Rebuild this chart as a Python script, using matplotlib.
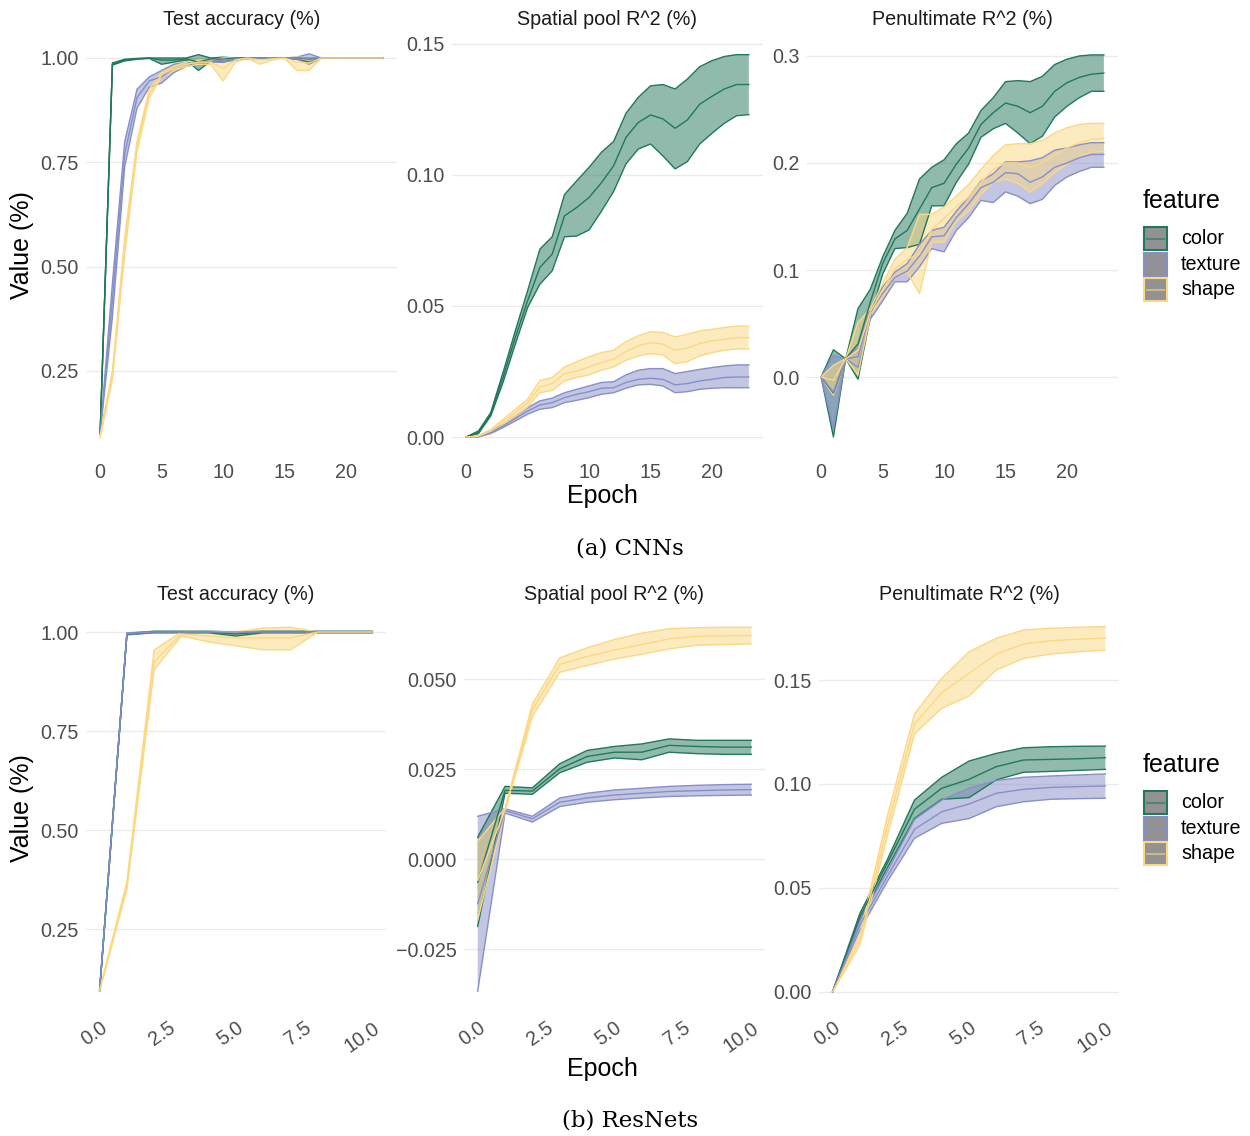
import matplotlib
matplotlib.use('Agg')
import matplotlib.pyplot as plt
from matplotlib.patches import Rectangle
from matplotlib.colors import to_rgba

plt.rcParams['font.family'] = ['Liberation Sans', 'DejaVu Sans']

features = ['color', 'texture', 'shape']
feature_colors = ['#22785A', '#878FC9', '#FCD883']

# ---- CNNs: epochs 0..23 ----
cnn_epochs = list(range(24))

cnn_acc_color_lo = [0.10, 0.983, 0.993, 0.997, 0.999, 0.985, 0.99, 0.995, 0.97, 0.993, 0.99, 0.999, 1.0, 1.0, 1.0, 1.0, 0.997, 0.99, 1.0, 1.0, 1.0, 1.0, 1.0, 1.0]
cnn_acc_color_mid = [0.10, 0.985, 0.995, 0.998, 1.0, 0.995, 0.995, 0.998, 0.99, 0.998, 0.997, 1.0, 1.0, 1.0, 1.0, 1.0, 1.0, 0.998, 1.0, 1.0, 1.0, 1.0, 1.0, 1.0]
cnn_acc_color_hi = [0.10, 0.988, 0.997, 0.999, 1.0, 1.0, 1.0, 1.0, 1.008, 1.0, 1.002, 1.0, 1.0, 1.0, 1.0, 1.0, 1.0, 1.0, 1.0, 1.0, 1.0, 1.0, 1.0, 1.0]
cnn_acc_texture_lo = [0.10, 0.38, 0.74, 0.88, 0.93, 0.94, 0.965, 0.98, 0.985, 0.99, 0.99, 0.995, 0.998, 0.999, 1.0, 1.0, 0.998, 0.985, 1.0, 1.0, 1.0, 1.0, 1.0, 1.0]
cnn_acc_texture_mid = [0.10, 0.42, 0.77, 0.905, 0.945, 0.955, 0.975, 0.985, 0.99, 0.992, 0.995, 0.997, 0.999, 1.0, 1.0, 1.0, 1.0, 1.0, 1.0, 1.0, 1.0, 1.0, 1.0, 1.0]
cnn_acc_texture_hi = [0.10, 0.46, 0.80, 0.925, 0.955, 0.97, 0.985, 0.99, 0.995, 0.995, 0.999, 1.0, 1.0, 1.0, 1.0, 1.0, 1.002, 1.01, 1.0, 1.0, 1.0, 1.0, 1.0, 1.0]
cnn_acc_shape_lo = [0.09, 0.23, 0.53, 0.775, 0.905, 0.955, 0.97, 0.98, 0.985, 0.985, 0.945, 0.99, 0.999, 0.985, 0.995, 1.0, 0.97, 0.97, 1.0, 1.0, 1.0, 1.0, 1.0, 1.0]
cnn_acc_shape_mid = [0.095, 0.24, 0.55, 0.79, 0.915, 0.96, 0.975, 0.985, 0.99, 0.99, 0.975, 0.995, 1.0, 0.995, 0.998, 1.0, 0.99, 0.988, 1.0, 1.0, 1.0, 1.0, 1.0, 1.0]
cnn_acc_shape_hi = [0.10, 0.25, 0.57, 0.80, 0.925, 0.965, 0.98, 0.99, 0.995, 0.995, 1.0, 1.0, 1.0, 1.0, 1.0, 1.0, 1.002, 1.0, 1.0, 1.0, 1.0, 1.0, 1.0, 1.0]

cnn_pool_color_lo = [0, 0.0013, 0.008, 0.0208, 0.0354, 0.0494, 0.0583, 0.0634, 0.0764, 0.0767, 0.079, 0.0861, 0.0937, 0.1042, 0.1099, 0.1118, 0.1073, 0.1023, 0.1051, 0.1118, 0.1159, 0.1197, 0.1226, 0.123]
cnn_pool_color_mid = [0, 0.0017, 0.0087, 0.0227, 0.038, 0.052, 0.0647, 0.0698, 0.0844, 0.0876, 0.0914, 0.097, 0.1035, 0.1143, 0.120, 0.1229, 0.1214, 0.1178, 0.121, 0.127, 0.130, 0.1328, 0.1345, 0.1345]
cnn_pool_color_hi = [0, 0.0023, 0.0093, 0.0246, 0.0405, 0.0558, 0.0717, 0.0764, 0.0925, 0.0978, 0.1029, 0.1086, 0.1128, 0.1235, 0.1296, 0.134, 0.1345, 0.1328, 0.1366, 0.1413, 0.1436, 0.1452, 0.1459, 0.1459]
cnn_pool_texture_lo = [0, 0.0, 0.0013, 0.0036, 0.0061, 0.0087, 0.0106, 0.0112, 0.0131, 0.014, 0.015, 0.0163, 0.0169, 0.0186, 0.0199, 0.0201, 0.0195, 0.0169, 0.0173, 0.0182, 0.0186, 0.0188, 0.0188, 0.0188]
cnn_pool_texture_mid = [0, 0.0001, 0.0017, 0.0042, 0.0071, 0.0099, 0.0122, 0.0131, 0.015, 0.0163, 0.0173, 0.0186, 0.0188, 0.0208, 0.022, 0.0224, 0.022, 0.0199, 0.0204, 0.0214, 0.022, 0.0227, 0.0229, 0.0229]
cnn_pool_texture_hi = [0, 0.0002, 0.0023, 0.0048, 0.008, 0.0112, 0.0138, 0.0148, 0.0169, 0.0182, 0.0195, 0.0208, 0.0211, 0.0237, 0.0255, 0.0261, 0.0261, 0.0242, 0.025, 0.0258, 0.0265, 0.0271, 0.0275, 0.0275]
cnn_pool_shape_lo = [0, 0.0001, 0.0017, 0.0048, 0.008, 0.0115, 0.0169, 0.0178, 0.0214, 0.0227, 0.0237, 0.0255, 0.0267, 0.0293, 0.0309, 0.0318, 0.0313, 0.028, 0.0288, 0.0309, 0.0322, 0.0331, 0.0336, 0.0336]
cnn_pool_shape_mid = [0, 0.0003, 0.0023, 0.0059, 0.0093, 0.0131, 0.0191, 0.0204, 0.0242, 0.0252, 0.0267, 0.0284, 0.0297, 0.0326, 0.0348, 0.036, 0.0354, 0.0331, 0.0339, 0.0357, 0.0367, 0.0373, 0.0379, 0.0379]
cnn_pool_shape_hi = [0, 0.0005, 0.0029, 0.0067, 0.0106, 0.0144, 0.0216, 0.0227, 0.0267, 0.0288, 0.0306, 0.0322, 0.0331, 0.0364, 0.0386, 0.0402, 0.0399, 0.0382, 0.0392, 0.0405, 0.0411, 0.0418, 0.0423, 0.0423]

cnn_pen_color_lo = [0, -0.056, 0.017, -0.002, 0.056, 0.096, 0.120, 0.121, 0.124, 0.160, 0.160, 0.182, 0.199, 0.224, 0.232, 0.237, 0.228, 0.218, 0.225, 0.243, 0.253, 0.261, 0.267, 0.267]
cnn_pen_color_mid = [0, -0.015, 0.017, 0.031, 0.070, 0.106, 0.129, 0.137, 0.157, 0.177, 0.181, 0.199, 0.214, 0.236, 0.247, 0.256, 0.253, 0.247, 0.253, 0.267, 0.275, 0.280, 0.283, 0.284]
cnn_pen_color_hi = [0, 0.0255, 0.017, 0.064, 0.082, 0.112, 0.137, 0.153, 0.185, 0.196, 0.203, 0.218, 0.228, 0.249, 0.261, 0.276, 0.277, 0.276, 0.281, 0.292, 0.297, 0.300, 0.301, 0.301]
cnn_pen_texture_lo = [0, -0.048, 0.017, 0.009, 0.054, 0.071, 0.089, 0.089, 0.103, 0.120, 0.117, 0.137, 0.149, 0.165, 0.163, 0.173, 0.169, 0.162, 0.166, 0.179, 0.187, 0.192, 0.196, 0.196]
cnn_pen_texture_mid = [0, -0.014, 0.017, 0.019, 0.061, 0.078, 0.093, 0.099, 0.113, 0.131, 0.132, 0.149, 0.162, 0.177, 0.182, 0.191, 0.190, 0.182, 0.187, 0.196, 0.200, 0.205, 0.208, 0.208]
cnn_pen_texture_hi = [0, 0.020, 0.017, 0.028, 0.065, 0.084, 0.098, 0.106, 0.124, 0.137, 0.140, 0.155, 0.168, 0.183, 0.190, 0.201, 0.201, 0.202, 0.205, 0.212, 0.214, 0.217, 0.219, 0.219]
cnn_pen_shape_lo = [0, -0.017, 0.017, 0.002, 0.058, 0.075, 0.093, 0.098, 0.078, 0.126, 0.126, 0.146, 0.155, 0.171, 0.182, 0.185, 0.181, 0.173, 0.181, 0.191, 0.199, 0.206, 0.210, 0.211]
cnn_pen_shape_mid = [0, -0.003, 0.017, 0.025, 0.061, 0.081, 0.101, 0.110, 0.115, 0.138, 0.148, 0.159, 0.168, 0.182, 0.194, 0.200, 0.200, 0.196, 0.200, 0.208, 0.214, 0.219, 0.222, 0.223]
cnn_pen_shape_hi = [0, 0.011, 0.017, 0.051, 0.064, 0.087, 0.110, 0.121, 0.152, 0.152, 0.159, 0.169, 0.180, 0.194, 0.207, 0.217, 0.218, 0.218, 0.221, 0.228, 0.233, 0.236, 0.237, 0.237]

# ---- ResNets: epochs 0..10 ----
res_epochs = list(range(11))

res_acc_color_lo = [0.093, 0.993, 0.998, 0.998, 0.998, 0.99, 0.998, 0.998, 0.998, 0.998, 0.998]
res_acc_color_mid = [0.095, 0.995, 1.0, 1.0, 1.0, 0.995, 1.0, 1.0, 1.0, 1.0, 1.0]
res_acc_color_hi = [0.097, 0.997, 1.002, 1.002, 1.002, 1.0, 1.002, 1.002, 1.002, 1.002, 1.002]
res_acc_texture_lo = [0.093, 0.994, 0.999, 0.999, 0.999, 0.999, 0.999, 0.999, 0.999, 0.999, 0.999]
res_acc_texture_mid = [0.095, 0.996, 1.0, 1.0, 1.0, 1.0, 1.0, 1.0, 1.0, 1.0, 1.0]
res_acc_texture_hi = [0.097, 0.998, 1.001, 1.001, 1.001, 1.001, 1.001, 1.001, 1.001, 1.001, 1.001]
res_acc_shape_lo = [0.093, 0.35, 0.905, 0.99, 0.975, 0.965, 0.955, 0.955, 1.0, 1.0, 1.0]
res_acc_shape_mid = [0.095, 0.36, 0.925, 0.995, 0.99, 0.985, 0.985, 0.985, 1.0, 1.0, 1.0]
res_acc_shape_hi = [0.097, 0.37, 0.955, 1.0, 1.0, 1.0, 1.01, 1.012, 1.0, 1.0, 1.0]

res_pool_color_lo = [-0.0187, 0.0183, 0.018, 0.024, 0.0269, 0.0281, 0.0276, 0.0297, 0.0293, 0.0291, 0.0291]
res_pool_color_mid = [-0.0064, 0.0191, 0.0189, 0.0251, 0.0285, 0.0297, 0.0297, 0.0316, 0.0313, 0.0311, 0.0311]
res_pool_color_hi = [0.0061, 0.0202, 0.0198, 0.0265, 0.0302, 0.0313, 0.032, 0.0334, 0.033, 0.033, 0.033]
res_pool_texture_lo = [-0.0367, 0.0128, 0.0103, 0.0146, 0.0158, 0.0165, 0.017, 0.0174, 0.0176, 0.0177, 0.0178]
res_pool_texture_mid = [-0.0124, 0.0135, 0.0112, 0.0158, 0.017, 0.0178, 0.0183, 0.0188, 0.019, 0.0192, 0.0193]
res_pool_texture_hi = [0.0119, 0.014, 0.0119, 0.017, 0.0183, 0.0192, 0.0197, 0.0202, 0.0205, 0.0207, 0.0208]
res_pool_shape_lo = [-0.0169, 0.0133, 0.0396, 0.0519, 0.0538, 0.0556, 0.0569, 0.0584, 0.0594, 0.0596, 0.0598]
res_pool_shape_mid = [-0.0059, 0.0137, 0.0415, 0.0541, 0.0563, 0.0581, 0.0596, 0.0612, 0.0619, 0.062, 0.0621]
res_pool_shape_hi = [0.005, 0.0141, 0.0431, 0.0559, 0.0587, 0.061, 0.0628, 0.064, 0.0643, 0.0644, 0.0644]

res_pen_color_lo = [0, 0.0345, 0.0594, 0.0834, 0.0926, 0.0934, 0.1019, 0.1056, 0.106, 0.1065, 0.107]
res_pen_color_mid = [0, 0.0361, 0.0618, 0.0878, 0.0979, 0.1022, 0.1083, 0.1115, 0.1118, 0.1121, 0.1126]
res_pen_color_hi = [0, 0.0377, 0.0634, 0.0922, 0.1032, 0.111, 0.1147, 0.1174, 0.1179, 0.1181, 0.1182]
res_pen_texture_lo = [0, 0.0297, 0.0529, 0.0738, 0.081, 0.0833, 0.089, 0.0914, 0.0926, 0.0929, 0.0931]
res_pen_texture_mid = [0, 0.0321, 0.0554, 0.0781, 0.0866, 0.0903, 0.0955, 0.0974, 0.0983, 0.0987, 0.099]
res_pen_texture_hi = [0, 0.0345, 0.0578, 0.0829, 0.0922, 0.0979, 0.1016, 0.1032, 0.1038, 0.1043, 0.1048]
res_pen_shape_lo = [0, 0.0225, 0.0746, 0.124, 0.1364, 0.1423, 0.1548, 0.1604, 0.1625, 0.1636, 0.1644]
res_pen_shape_mid = [0, 0.0249, 0.0794, 0.1288, 0.1439, 0.1532, 0.1625, 0.1673, 0.1689, 0.1697, 0.1701]
res_pen_shape_hi = [0, 0.0273, 0.0842, 0.1336, 0.1508, 0.1636, 0.1701, 0.1741, 0.1749, 0.1754, 0.1757]

cnn_xticks = [0, 5, 10, 15, 20]
cnn_xlabels = ['0', '5', '10', '15', '20']
res_xticks = [0, 2.5, 5, 7.5, 10]
res_xlabels = ['0.0', '2.5', '5.0', '7.5', '10.0']

acc_yticks = [0.25, 0.5, 0.75, 1.0]
acc_ylabels = ['0.25', '0.50', '0.75', '1.00']
cnn_pool_yticks = [0, 0.05, 0.10, 0.15]
cnn_pool_ylabels = ['0.00', '0.05', '0.10', '0.15']
cnn_pen_yticks = [0, 0.1, 0.2, 0.3]
cnn_pen_ylabels = ['0.0', '0.1', '0.2', '0.3']
res_pool_yticks = [-0.025, 0, 0.025, 0.05]
res_pool_ylabels = ['\u22120.025', '0.000', '0.025', '0.050']
res_pen_yticks = [0, 0.05, 0.10, 0.15]
res_pen_ylabels = ['0.00', '0.05', '0.10', '0.15']

titles = ['Test accuracy (%)', 'Spatial pool R^2 (%)', 'Penultimate R^2 (%)']

W, H = 1250, 1136
fig = plt.figure(figsize=(W / 100, H / 100), dpi=100)


def px_axes(x0, y0, x1, y1):
    return fig.add_axes([x0 / W, 1 - y1 / H, (x1 - x0) / W, (y1 - y0) / H])


def draw_panel(ax, x, bands, ylim, xlim, yticks, ylabels, xticks, xlabels, title, rotate=False):
    for (lo, mid, hi), c in zip(bands, feature_colors):
        ax.fill_between(x, lo, hi, facecolor=to_rgba(c, 0.5), edgecolor='none', zorder=2)
        ax.plot(x, lo, color=c, lw=1.0, zorder=3)
        ax.plot(x, hi, color=c, lw=1.0, zorder=3)
    for (lo, mid, hi), c in zip(bands, feature_colors):
        ax.plot(x, mid, color=c, lw=1.0, zorder=4)
    ax.set_xlim(*xlim)
    ax.set_ylim(*ylim)
    ax.set_yticks(yticks)
    ax.set_yticklabels(ylabels)
    ax.set_xticks(xticks)
    ax.set_xticklabels(xlabels)
    for s in ax.spines.values():
        s.set_visible(False)
    ax.yaxis.grid(True, color='#EBEBEB', lw=1.0)
    ax.set_axisbelow(True)
    ax.tick_params(length=0, labelsize=14.2, labelcolor='#4D4D4D', pad=5)
    if rotate:
        ax.tick_params(axis='x', pad=9)
        plt.setp(ax.get_xticklabels(), rotation=35, ha='right', va='top', rotation_mode='anchor')
    ax.annotate(title, xy=(0.5, 1), xycoords='axes fraction', xytext=(0, 11.5),
                textcoords='offset points', ha='center', va='center', fontsize=14.2, color='#1A1A1A')


def draw_legend(title_y):
    # legend drawn in a small axes whose data units are figure pixels
    lx = px_axes(1135, title_y - 20, 1250, title_y + 110)
    lx.set_xlim(1135, 1250)
    lx.set_ylim(title_y + 110, title_y - 20)
    lx.axis('off')
    lx.text(1143, title_y, 'feature', fontsize=18, ha='left', va='center')
    for i, (name, c) in enumerate(zip(features, feature_colors)):
        top = title_y + 26 + i * 25.5
        lx.add_patch(Rectangle((1144, top), 23, 23, facecolor='#929292', edgecolor=c, lw=1.5))
        lx.plot([1147, 1164], [top + 11.5, top + 11.5], color=c, lw=1.5, alpha=0.55)
        lx.text(1181, top + 11.5, name, fontsize=14.2, ha='left', va='center')


cnn_x = (-1.15, 24.15)
res_x = (-0.5, 10.5)

ax = px_axes(86, 35, 397, 456)
draw_panel(ax, cnn_epochs,
           [(cnn_acc_color_lo, cnn_acc_color_mid, cnn_acc_color_hi),
            (cnn_acc_texture_lo, cnn_acc_texture_mid, cnn_acc_texture_hi),
            (cnn_acc_shape_lo, cnn_acc_shape_mid, cnn_acc_shape_hi)],
           (0.0463, 1.0551), cnn_x, acc_yticks, acc_ylabels, cnn_xticks, cnn_xlabels, titles[0])
ax = px_axes(452, 35, 763, 456)
draw_panel(ax, cnn_epochs,
           [(cnn_pool_color_lo, cnn_pool_color_mid, cnn_pool_color_hi),
            (cnn_pool_texture_lo, cnn_pool_texture_mid, cnn_pool_texture_hi),
            (cnn_pool_shape_lo, cnn_pool_shape_mid, cnn_pool_shape_hi)],
           (-0.00725, 0.1534), cnn_x, cnn_pool_yticks, cnn_pool_ylabels, cnn_xticks, cnn_xlabels, titles[1])
ax = px_axes(807, 35, 1118, 456)
draw_panel(ax, cnn_epochs,
           [(cnn_pen_color_lo, cnn_pen_color_mid, cnn_pen_color_hi),
            (cnn_pen_texture_lo, cnn_pen_texture_mid, cnn_pen_texture_hi),
            (cnn_pen_shape_lo, cnn_pen_shape_mid, cnn_pen_shape_hi)],
           (-0.0738, 0.3196), cnn_x, cnn_pen_yticks, cnn_pen_ylabels, cnn_xticks, cnn_xlabels, titles[2])

ax = px_axes(86, 610, 386, 1006)
draw_panel(ax, res_epochs,
           [(res_acc_color_lo, res_acc_color_mid, res_acc_color_hi),
            (res_acc_texture_lo, res_acc_texture_mid, res_acc_texture_hi),
            (res_acc_shape_lo, res_acc_shape_mid, res_acc_shape_hi)],
           (0.0556, 1.0556), res_x, acc_yticks, acc_ylabels, res_xticks, res_xlabels, titles[0], rotate=True)
ax = px_axes(464, 610, 765, 1006)
draw_panel(ax, res_epochs,
           [(res_pool_color_lo, res_pool_color_mid, res_pool_color_hi),
            (res_pool_texture_lo, res_pool_texture_mid, res_pool_texture_hi),
            (res_pool_shape_lo, res_pool_shape_mid, res_pool_shape_hi)],
           (-0.0408, 0.0692), res_x, res_pool_yticks, res_pool_ylabels, res_xticks, res_xlabels, titles[1], rotate=True)
ax = px_axes(819, 610, 1119, 1006)
draw_panel(ax, res_epochs,
           [(res_pen_color_lo, res_pen_color_mid, res_pen_color_hi),
            (res_pen_texture_lo, res_pen_texture_mid, res_pen_texture_hi),
            (res_pen_shape_lo, res_pen_shape_mid, res_pen_shape_hi)],
           (-0.0069, 0.1837), res_x, res_pen_yticks, res_pen_ylabels, res_xticks, res_xlabels, titles[2], rotate=True)

# shared axis labels, legends and captions
for ylab_y, xlab_y, leg_y, cap_y, cap in [(245, 496, 201, 548, '(a) CNNs'),
                                          (808, 1069, 765, 1121, '(b) ResNets')]:
    fig.text(22 / W, 1 - ylab_y / H, 'Value (%)', rotation=90, ha='center', va='center', fontsize=18)
    fig.text(602 / W, 1 - xlab_y / H, 'Epoch', ha='center', va='center', fontsize=18)
    fig.text(630 / W, 1 - cap_y / H, cap, ha='center', va='center', fontsize=16.5, family='DejaVu Serif')
    draw_legend(leg_y)

fig.savefig('out.png', dpi=100, facecolor='white')
